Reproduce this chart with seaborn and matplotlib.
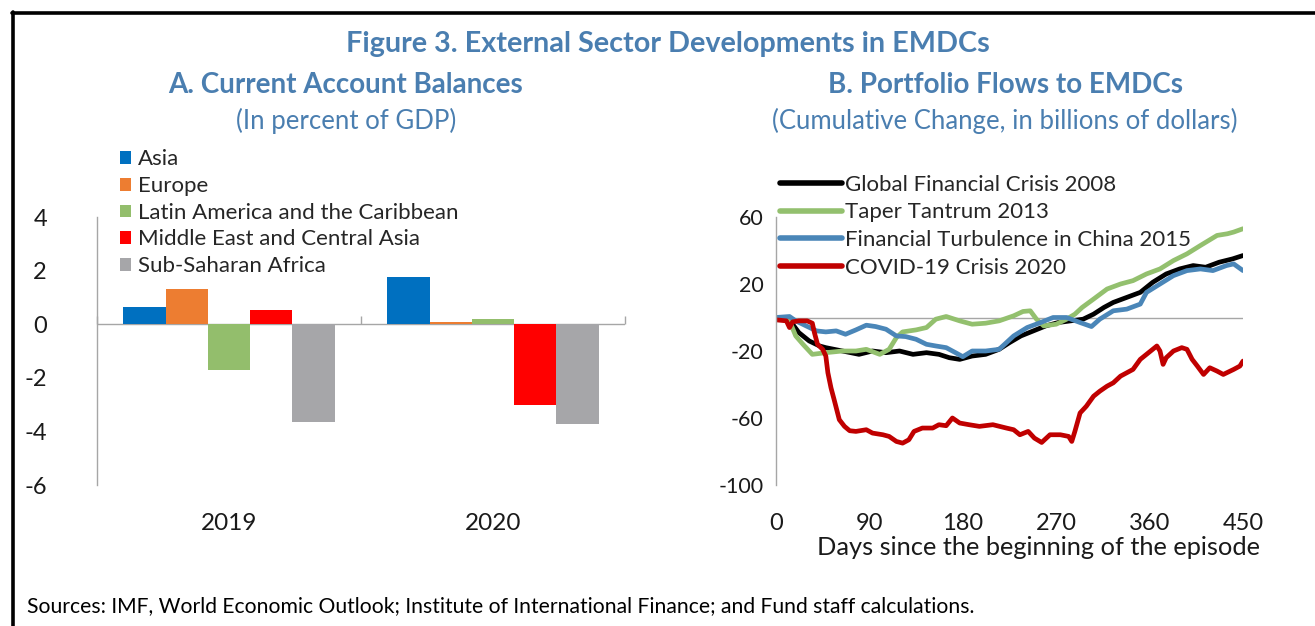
import numpy as np
import pandas as pd
import matplotlib
matplotlib.use("Agg")
import matplotlib.pyplot as plt
import seaborn as sns
from matplotlib.patches import Patch
from matplotlib.lines import Line2D

sns.set_theme(style="white")
plt.rcParams['font.family'] = ['Lato', 'DejaVu Sans']

# ---------------- Data: Panel A ----------------
years = ["2019", "2020"]
regions = ["Asia", "Europe", "Latin America and the Caribbean",
           "Middle East and Central Asia", "Sub-Saharan Africa"]
asia = [0.65, 1.75]
europe = [1.31, 0.07]
latam = [-1.70, 0.20]
mideast = [0.54, -3.00]
ssa = [-3.66, -3.71]
region_colors = ["#0070C0", "#ED7D31", "#93BE6C", "#FF0000", "#A6A6A9"]

# ---------------- Data: Panel B ----------------
episodes = ["Global Financial Crisis 2008", "Taper Tantrum 2013",
            "Financial Turbulence in China 2015", "COVID-19 Crisis 2020"]
episode_colors = ["#000000", "#93C06E", "#4A86B8", "#C00000"]

gfc_days = [0, 10, 16, 22, 32, 42, 48, 64, 80, 93,
            106, 119, 132, 145, 157, 167, 177, 189, 202, 215,
            225, 236, 248, 260, 272, 284, 296, 306, 316, 325,
            338, 351, 363, 376, 389, 402, 414, 427, 440, 450]
gfc_vals = [0, -1, -4, -9, -14, -17, -18, -20, -22, -20,
            -21, -20, -22, -21, -22, -24, -25, -23, -22, -19,
            -15, -11, -8, -5, -3, -2, -1, 2, 6, 9,
            12, 15, 21, 26, 29, 31, 30, 33, 35, 37]

taper_days = [0, 13, 19, 26, 32, 35, 48, 64, 77, 87,
              100, 109, 116, 122, 135, 145, 154, 164, 177, 189,
              202, 215, 229, 238, 245, 251, 258, 270, 280, 288,
              295, 306, 319, 332, 344, 357, 370, 383, 396, 409,
              425, 435, 441, 450]
taper_vals = [0, -2, -11, -16, -20, -22, -21, -20, -20, -19,
              -22, -19, -12, -8.6, -7.4, -6, -1, 0.6, -2, -4,
              -3.4, -2, 1, 3.6, 4, -1, -5, -4, -1, 2,
              6, 11, 17, 20, 22, 26, 29, 34, 38, 43,
              49, 50, 51, 53]

china_days = [0, 13, 19, 29, 39, 48, 58, 67, 77, 87,
              96, 106, 116, 125, 135, 145, 154, 164, 173, 180,
              189, 202, 215, 229, 242, 255, 267, 280, 293, 304,
              312, 325, 338, 351, 357, 370, 383, 396, 409, 421,
              434, 441, 450]
china_vals = [0, 0.6, -2, -5, -8, -8.6, -8, -10, -7.4, -4.6,
              -5.4, -7, -11, -11.4, -13, -16, -17, -18, -21, -23.4,
              -20, -20, -19, -11, -6, -3, 0, 0, -3, -5.4,
              -1, 4, 5, 8, 15, 20, 25, 28, 29, 28,
              31, 32, 28]

covid_days = [0, 10, 13, 16, 22, 30, 35, 37, 40, 45,
              48, 50, 53, 56, 61, 66, 71, 77, 87, 93,
              103, 109, 116, 122, 128, 133, 141, 151, 157, 164,
              170, 177, 186, 196, 209, 222, 229, 235, 243, 249,
              256, 264, 274, 282, 285, 288, 293, 299, 306, 312,
              319, 325, 332, 338, 344, 351, 357, 363, 367, 370,
              373, 376, 383, 391, 396, 401, 406, 412, 418, 425,
              431, 441, 447, 450]
covid_vals = [-1.4, -2, -6, -2.6, -2, -2, -3.4, -9, -16, -19,
              -23, -33, -42, -49, -61, -65, -67.6, -68, -67, -69,
              -70, -71, -74, -75, -73, -68, -66, -66, -64, -64.6,
              -60, -63, -64, -65, -64, -66, -67, -70, -68, -72,
              -74.6, -70, -70, -71, -74, -68, -57, -53, -47, -44,
              -41, -39, -35, -33, -31, -25, -22, -19, -17, -20,
              -28, -24, -20, -18, -19, -25, -29, -34, -30, -32,
              -34, -31, -29, -26]

x_ticks_b = [0, 90, 180, 270, 360, 450]
y_ticks_b = [-100, -60, -20, 20, 60]
y_ticks_a = [-6, -4, -2, 0, 2, 4]

TITLE_BLUE = "#4A7EB0"
AXIS_GRAY = "#A6A6A6"
TEXT = "#1a1a1a"

# ---------------- Figure ----------------
W, H = 1315, 626
fig = plt.figure(figsize=(W / 100, H / 100), dpi=100)
fig.patch.set_facecolor("white")

def fx(px):
    return px / W

def fy(py):
    return 1 - py / H

# Frame lines (top and left)
fig.add_artist(Line2D([fx(12), 1.0], [fy(12.5), fy(12.5)], color="black", lw=2.6))
fig.add_artist(Line2D([fx(12.5), fx(12.5)], [fy(12), 0.0], color="black", lw=2.6))

# Titles
fig.text(fx(668), fy(44), "Figure 3. External Sector Developments in EMDCs",
         ha="center", va="center", fontsize=20.7, fontweight="bold", color=TITLE_BLUE)
fig.text(fx(346), fy(85), "A. Current Account Balances",
         ha="center", va="center", fontsize=20, fontweight="bold", color=TITLE_BLUE)
fig.text(fx(346), fy(121), "(In percent of GDP)",
         ha="center", va="center", fontsize=18.5, color=TITLE_BLUE)
fig.text(fx(1005), fy(85), "B. Portfolio Flows to EMDCs",
         ha="center", va="center", fontsize=20, fontweight="bold", color=TITLE_BLUE)
fig.text(fx(1005), fy(121), "(Cumulative Change, in billions of dollars)",
         ha="center", va="center", fontsize=18.5, color=TITLE_BLUE)
fig.text(fx(27), fy(606),
         "Sources: IMF, World Economic Outlook; Institute of International Finance; and Fund staff calculations.",
         ha="left", va="center", fontsize=15.2, color="black")

# ---------------- Panel A ----------------
axA = fig.add_axes([fx(97), fy(485), fx(625) - fx(97), fy(217) - fy(485)])
series_a = [asia, europe, latam, mideast, ssa]
df_a = pd.DataFrame({
    "Year": [y for vals in series_a for y in years],
    "Region": [r for r, vals in zip(regions, series_a) for _ in vals],
    "Value": [v for vals in series_a for v in vals],
})
axA.axhline(0, color=AXIS_GRAY, lw=1, zorder=0.5)
sns.barplot(data=df_a, x="Year", y="Value", hue="Region", hue_order=regions,
            order=years, palette=region_colors, width=0.8, saturation=1,
            linewidth=0, legend=False, ax=axA)
axA.set_ylim(-6, 4)
axA.set_xlim(-0.5, 1.5)
axA.set_yticks(y_ticks_a)
axA.set_yticklabels([str(t) for t in y_ticks_a])
axA.set_xlabel("")
axA.set_ylabel("")
for s in ["top", "right", "bottom"]:
    axA.spines[s].set_visible(False)
axA.spines["left"].set_color(AXIS_GRAY)
axA.spines["left"].set_linewidth(1)
axA.tick_params(axis="y", direction="out", length=5, width=1, color=AXIS_GRAY,
                labelsize=17, labelcolor=TEXT, pad=31)
axA.tick_params(axis="x", length=0, labelsize=17.5, labelcolor=TEXT, pad=20)
# category separator ticks on the zero line
sec = axA.secondary_xaxis(0.6)
sec.set_alignment("bottom")
sec.set_xticks([-0.5, 0.5, 1.5])
sec.set_xticklabels([])
sec.tick_params(axis="x", direction="in", length=6, width=1, color=AXIS_GRAY)
for s in ["top", "bottom", "left", "right"]:
    sec.spines[s].set_visible(False)

handles_a = [Patch(facecolor=c, edgecolor="none", label=r) for c, r in zip(region_colors, regions)]
axA.legend(handles=handles_a, loc="upper left", bbox_to_anchor=(0.043, 1.252),
           frameon=False, fontsize=16, handlelength=0.5, handleheight=0.5,
           handletextpad=0.32, labelspacing=0.3, borderpad=0, borderaxespad=0)

# ---------------- Panel B ----------------
axB = fig.add_axes([fx(776), fy(485), fx(1243) - fx(776), fy(217) - fy(485)])
days_list = [gfc_days, taper_days, china_days, covid_days]
vals_list = [gfc_vals, taper_vals, china_vals, covid_vals]
df_b = pd.DataFrame({
    "Day": [d for ds in days_list for d in ds],
    "Value": [v for vs in vals_list for v in vs],
    "Episode": [e for e, ds in zip(episodes, days_list) for _ in ds],
})
axB.axhline(0, color=AXIS_GRAY, lw=1, zorder=0)
sns.lineplot(data=df_b, x="Day", y="Value", hue="Episode", hue_order=episodes,
             palette=episode_colors, estimator=None, sort=False, linewidth=3.4,
             legend=False, ax=axB)
axB.set_xlim(0, 450)
axB.set_ylim(-100, 60)
axB.set_xticks(x_ticks_b)
axB.set_xticklabels([str(t) for t in x_ticks_b])
axB.set_yticks(y_ticks_b)
axB.set_yticklabels([str(t) for t in y_ticks_b])
axB.set_ylabel("")
axB.set_xlabel("Days since the beginning of the episode", fontsize=18.3, color=TEXT,
               va="top")
axB.xaxis.set_label_coords(0.563, -0.192)
for s in ["top", "right", "bottom"]:
    axB.spines[s].set_visible(False)
axB.spines["left"].set_color(AXIS_GRAY)
axB.spines["left"].set_linewidth(1)
axB.tick_params(axis="y", direction="out", length=5, width=1, color=AXIS_GRAY,
                labelsize=15.5, labelcolor=TEXT, pad=4)
axB.tick_params(axis="x", length=0, labelsize=17, labelcolor=TEXT, pad=20)

handles_b = [Line2D([0], [0], color=c, lw=4, label=e) for c, e in zip(episode_colors, episodes)]
axB.legend(handles=handles_b, loc="upper left", bbox_to_anchor=(0.008, 1.157),
           frameon=False, fontsize=16, handlelength=2.8, handletextpad=0.12,
           labelspacing=0.34, borderpad=0, borderaxespad=0)

fig.savefig("out.png", dpi=100, facecolor="white")
